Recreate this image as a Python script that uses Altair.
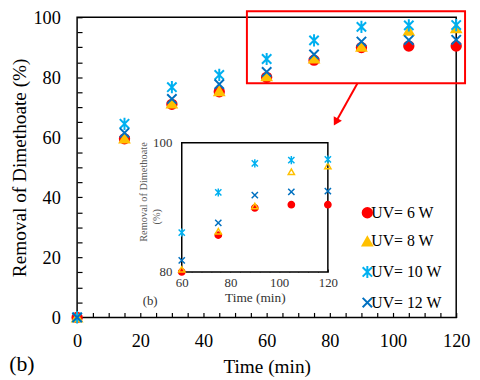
import altair as alt
import pandas as pd

# ---------------- data ----------------
time_min = [0, 15, 30, 45, 60, 75, 90, 105, 120]
uv6 = [0, 59.5, 71.0, 75.2, 80.0, 85.7, 89.9, 90.4, 90.4]
uv8 = [0, 59.6, 71.3, 75.4, 80.4, 86.3, 90.2, 95.5, 96.4]
uv10 = [0, 64.5, 76.7, 80.8, 86.1, 92.3, 96.8, 97.3, 97.4]
uv12 = [0, 61.5, 72.8, 77.7, 81.8, 87.6, 91.9, 92.4, 92.5]
series_names = ["UV= 6 W", "UV= 8 W", "UV= 10 W", "UV= 12 W"]

main_x_domain = [0, 120]
main_y_domain = [0, 100]
main_x_labels = [0, 20, 40, 60, 80, 100, 120]
main_y_labels = [0, 20, 40, 60, 80, 100]
main_x_ticks = list(range(0, 121, 5))
main_y_ticks = list(range(0, 101, 5))

inset_x_domain = [60, 120]
inset_y_domain = [80, 100]
inset_x_labels = [60, 80, 100, 120]
inset_y_labels = [80, 100]
inset_x_ticks = list(range(60, 121, 4))
inset_y_ticks = list(range(80, 101, 4))

zoom_box_x = [53.75, 122.8]
zoom_box_y = [78.0, 102.0]
arrow_x = [88.75, 81.9]
arrow_y = [78.0, 65.1]

# ---------------- styles / layout ----------------
series_colors = ["#FF0000", "#FFC000", "#00B0F0", "#0070C0"]
ASTER = "M-1,-1L1,1M-1,1L1,-1M0,-1.3L0,1.3"
XMARK = "M-1,-1L1,1M-1,1L1,-1"
series_shapes = ["circle", "triangle-up", ASTER, XMARK]
FONT = "Liberation Serif"
W, H = 384, 304
inset_x_range = [106, 254]
inset_y_range = [258, 127]

df = pd.DataFrame({
    "time": time_min * 4,
    "removal": uv6 + uv8 + uv10 + uv12,
    "series": [s for s in series_names for _ in time_min],
})
inset_df = df[df["time"] >= inset_x_domain[0]].reset_index(drop=True)

color_scale = alt.Scale(domain=series_names, range=series_colors)
shape_scale = alt.Scale(domain=series_names, range=series_shapes)
legend_def = alt.Legend(orient="none", legendX=286, legendY=190, title=None,
                        labelFont=FONT, labelFontSize=16, labelColor="black",
                        symbolSize=90, symbolStrokeWidth=2, rowPadding=11,
                        labelOffset={"expr": "-4"}, padding=0)

main_xs = alt.Scale(domain=main_x_domain, nice=False, zero=False)
main_ys = alt.Scale(domain=main_y_domain, nice=False, zero=False)
inset_xs = alt.Scale(domain=inset_x_domain, range=inset_x_range, nice=False, zero=False)
inset_ys = alt.Scale(domain=inset_y_domain, range=inset_y_range, nice=False, zero=False)

main_points = alt.Chart(df).mark_point(filled=True, size=90, strokeWidth=2, opacity=1).encode(
    x=alt.X("time:Q", scale=main_xs, axis=alt.Axis(
        orient="bottom", values=main_x_labels, title="Time (min)", labelFont=FONT,
        labelFontSize=18.5, labelColor="black", labelPadding=14, ticks=False, tickSize=0,
        domain=False, titleFont=FONT, titleFontSize=19.5, titleFontWeight="normal",
        titleColor="black", titlePadding=8, labelFlush=False, labelOverlap=False, grid=False)),
    y=alt.Y("removal:Q", scale=main_ys, axis=alt.Axis(
        orient="left", values=main_y_labels, title="Removal of Dimethoate (%)", labelFont=FONT,
        labelFontSize=18.5, labelColor="black", labelPadding=17, ticks=False, tickSize=0,
        domain=False, titleFont=FONT, titleFontSize=19.5, titleFontWeight="normal",
        titleColor="black", titlePadding=4, labelFlush=False, labelOverlap=False, grid=False)),
    fill=alt.Fill("series:N", scale=color_scale, title=None, legend=legend_def),
    stroke=alt.Stroke("series:N", scale=color_scale, title=None, legend=legend_def),
    shape=alt.Shape("series:N", scale=shape_scale, title=None, legend=legend_def),
)

main_ticks = alt.Chart(df).mark_point(opacity=0).encode(
    x=alt.X("time:Q", scale=main_xs, axis=alt.Axis(
        orient="top", offset=-H, values=main_x_ticks, labels=False, domain=False,
        ticks=True, tickSize=5, tickColor="black", tickWidth=1.2, title=None, grid=False)),
    y=alt.Y("removal:Q", scale=main_ys, axis=alt.Axis(
        orient="right", offset=-W, values=main_y_ticks, labels=False, domain=False,
        ticks=True, tickSize=5, tickColor="black", tickWidth=1.2, title=None, grid=False)),
)

box_df = pd.DataFrame({"x": [zoom_box_x[0]], "x2": [zoom_box_x[1]],
                       "y": [zoom_box_y[0]], "y2": [zoom_box_y[1]]})
zoom_rect = alt.Chart(box_df).mark_rect(fillOpacity=0, stroke="#FF0000", strokeWidth=2).encode(
    x=alt.X("x:Q", scale=main_xs, axis=None), x2="x2:Q",
    y=alt.Y("y:Q", scale=main_ys, axis=None), y2="y2:Q",
)

arrow_df = pd.DataFrame({"x": [arrow_x[0]], "x2": [arrow_x[1]],
                         "y": [arrow_y[0]], "y2": [arrow_y[1]]})
arrow_line = alt.Chart(arrow_df).mark_rule(color="#FF0000", strokeWidth=2).encode(
    x=alt.X("x:Q", scale=main_xs, axis=None), x2="x2:Q",
    y=alt.Y("y:Q", scale=main_ys, axis=None), y2="y2:Q",
)
head_df = pd.DataFrame({"x": [arrow_x[1]], "y": [arrow_y[1]]})
arrow_head = alt.Chart(head_df).mark_point(shape="triangle-up", angle=209, filled=True,
                                           color="#FF0000", size=90, opacity=1).encode(
    x=alt.X("x:Q", scale=main_xs, axis=None),
    y=alt.Y("y:Q", scale=main_ys, axis=None),
)

inset_box_df = pd.DataFrame({"x": [inset_x_domain[0]], "x2": [inset_x_domain[1]],
                             "y": [inset_y_domain[0]], "y2": [inset_y_domain[1]]})
inset_box = alt.Chart(inset_box_df).mark_rect(fill="white", stroke="black", strokeWidth=1.5).encode(
    x=alt.X("x:Q", scale=inset_xs, axis=alt.Axis(
        orient="top", offset=-inset_y_range[0], values=inset_x_ticks, labels=False,
        domain=False, ticks=True, tickSize=3, tickColor="black", tickWidth=1,
        title=None, grid=False)),
    x2="x2:Q",
    y=alt.Y("y:Q", scale=inset_ys, axis=alt.Axis(
        orient="right", offset=inset_x_range[0] - W, values=inset_y_ticks, labels=False,
        domain=False, ticks=True, tickSize=3, tickColor="black", tickWidth=1,
        title=None, grid=False)),
    y2="y2:Q",
)

inset_points = alt.Chart(inset_df).mark_point(size=40, strokeWidth=1.5, opacity=1).encode(
    x=alt.X("time:Q", scale=inset_xs, axis=alt.Axis(
        orient="bottom", offset=inset_y_range[0] - H, values=inset_x_labels,
        title="Time (min)", labelFont=FONT, labelFontSize=13, labelColor="#333333",
        labelPadding=5, ticks=False, tickSize=0, domain=False, titleFont=FONT,
        titleFontSize=13.5, titleFontWeight="normal", titleColor="#333333",
        titlePadding=1, labelFlush=False, labelOverlap=False, grid=False)),
    y=alt.Y("removal:Q", scale=inset_ys, axis=alt.Axis(
        orient="left", offset=-inset_x_range[0], values=inset_y_labels, title=None,
        labelFont=FONT, labelFontSize=13, labelColor="#333333", labelPadding=10,
        ticks=False, tickSize=0, domain=False, labelFlush=False, labelOverlap=False,
        grid=False)),
    fill=alt.condition(alt.datum.series == "UV= 8 W", alt.value("transparent"),
                       alt.Fill("series:N", scale=color_scale, title=None, legend=legend_def)),
    stroke=alt.Stroke("series:N", scale=color_scale, title=None, legend=legend_def),
    shape=alt.Shape("series:N", scale=shape_scale, title=None, legend=legend_def),
)

one = pd.DataFrame({"k": [0]})
inset_title1 = alt.Chart(one).mark_text(angle=270, font=FONT, fontSize=10.5, color="#595959").encode(
    x=alt.value(68), y=alt.value(177), text=alt.value("Removal of Dimethoate"))
inset_title2 = alt.Chart(one).mark_text(angle=270, font=FONT, fontSize=10.5, color="#595959").encode(
    x=alt.value(81), y=alt.value(202), text=alt.value("(%)"))
inset_b = alt.Chart(one).mark_text(font=FONT, fontSize=13, color="#333333").encode(
    x=alt.value(74), y=alt.value(287), text=alt.value("(b)"))
main_b = alt.Chart(one).mark_text(font=FONT, fontSize=22, color="black").encode(
    x=alt.value(-56), y=alt.value(351), text=alt.value("(b)"))

chart = alt.layer(
    main_ticks, zoom_rect, arrow_line, arrow_head, inset_box, inset_points,
    main_points, inset_title1, inset_title2, inset_b, main_b,
).resolve_scale(x="independent", y="independent").properties(
    width=W, height=H,
    autosize=alt.AutoSizeParams(type="none"),
    padding={"left": 70, "top": 7, "right": 16, "bottom": 60},
).configure(font=FONT).configure_view(stroke="black", strokeWidth=1.5).configure_axis(
    grid=False, labelFont=FONT, titleFont=FONT, titleFontWeight="normal"
).configure_legend(labelFont=FONT)

chart.save("out.html", embed_options={"renderer": "svg", "actions": False})
